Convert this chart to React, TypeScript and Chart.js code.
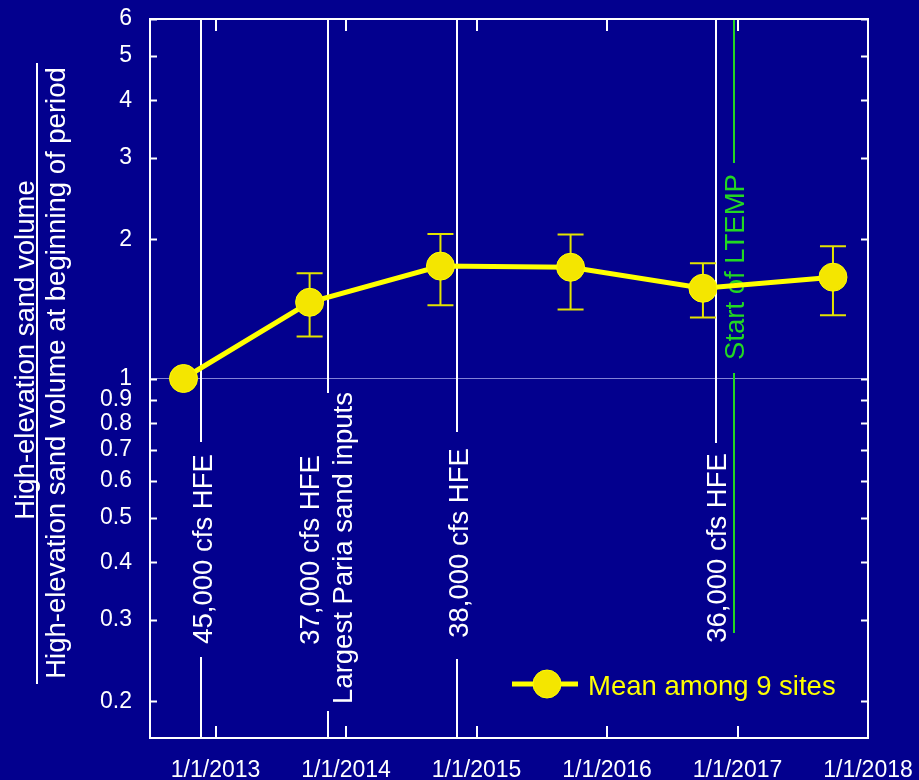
import React, { useEffect, useRef } from 'react';
import { Chart, registerables } from 'chart.js';

Chart.register(...registerables);

// ---------- data ----------
const surveyDates = ['2012-10-03', '2013-09-21', '2014-09-22', '2015-09-21', '2016-09-26', '2017-09-25'];
const meanRatio = [1.0, 1.462, 1.751, 1.741, 1.568, 1.657];
const errUpper: (number | null)[] = [null, 1.69, 2.054, 2.05, 1.777, 1.934];
const errLower: (number | null)[] = [null, 1.233, 1.44, 1.41, 1.356, 1.37];
const yTickValues = [0.2, 0.3, 0.4, 0.5, 0.6, 0.7, 0.8, 0.9, 1, 2, 3, 4, 5, 6];
const xTickYears = [2013, 2014, 2015, 2016, 2017, 2018];
const eventDates = ['2012-11-22', '2013-11-12', '2014-11-06', '2016-11-01'];
const eventLabels = ['45,000 cfs HFE', '37,000 cfs HFE', '38,000 cfs HFE', '36,000 cfs HFE'];
const pariaLabel = 'Largest Paria sand inputs';
const ltempDate = '2016-12-21';
const ltempLabel = 'Start of LTEMP';
const seriesLabel = 'Mean among 9 sites';
const yTitleTop = 'High-elevation sand volume';
const yTitleBottom = 'High-elevation sand volume at beginning of period';
const xStartDate = '2012-07-01';

// ---------- styling ----------
const BG = '#03008e';
const WHITE = '#ffffff';
const YELLOW = '#ffff00';
const MARKER = '#f4e600';
const GREEN = '#22d822';
const FONT = "'Liberation Sans', Arial, Helvetica, sans-serif";
const BIG = 27.5;

function toYear(s: string): number {
  const [y, m, d] = s.split('-').map(Number);
  const start = Date.UTC(y, 0, 1);
  const end = Date.UTC(y + 1, 0, 1);
  return y + (Date.UTC(y, m - 1, d) - start) / (end - start);
}

function vText(ctx: CanvasRenderingContext2D, text: string, cx: number, cy: number, size: number, color: string) {
  ctx.save();
  ctx.translate(cx, cy);
  ctx.rotate(-Math.PI / 2);
  ctx.font = `${size}px ${FONT}`;
  ctx.fillStyle = color;
  ctx.textAlign = 'center';
  ctx.textBaseline = 'alphabetic';
  ctx.fillText(text, 0, size * 0.716 / 2);
  ctx.restore();
}

function vLine(ctx: CanvasRenderingContext2D, x: number, y1: number, y2: number, color: string, w = 2) {
  ctx.save();
  ctx.strokeStyle = color;
  ctx.lineWidth = w;
  ctx.beginPath();
  ctx.moveTo(x, y1);
  ctx.lineTo(x, y2);
  ctx.stroke();
  ctx.restore();
}

const decorPlugin = {
  id: 'decor',
  beforeDatasetsDraw(chart: any) {
    const ctx: CanvasRenderingContext2D = chart.ctx;
    const { left, right, top, bottom } = chart.chartArea;
    const xs = chart.scales.x;
    const ys = chart.scales.y;

    // horizontal reference line at 1
    const y1 = ys.getPixelForValue(1);
    ctx.save();
    ctx.strokeStyle = 'rgba(200,200,255,0.65)';
    ctx.lineWidth = 1;
    ctx.beginPath();
    ctx.moveTo(left, y1);
    ctx.lineTo(right, y1);
    ctx.stroke();
    ctx.restore();

    // event lines (gaps given as offsets from the plot top)
    const gaps = [
      { gTop: 423, gBot: 638, text: [{ dx: 1, cy: 530, label: eventLabels[0] }] },
      { gTop: 374, gBot: 692, text: [{ dx: -19, cy: 531, label: eventLabels[1] }, { dx: 14, cy: 529, label: pariaLabel }] },
      { gTop: 413, gBot: 640, text: [{ dx: 1, cy: 524, label: eventLabels[2] }] },
      { gTop: 424, gBot: null, text: [{ dx: 0, cy: 529, label: eventLabels[3] }] },
    ];
    eventDates.forEach((d, i) => {
      const px = Math.round(xs.getPixelForValue(toYear(d)));
      const g = gaps[i];
      vLine(ctx, px, top, top + g.gTop, WHITE);
      if (g.gBot !== null) vLine(ctx, px, top + g.gBot, bottom, WHITE);
      g.text.forEach(t => vText(ctx, t.label, px + t.dx, top + t.cy, BIG, WHITE));
    });

    // LTEMP
    const lx = Math.round(xs.getPixelForValue(toYear(ltempDate)));
    vLine(ctx, lx, top, top + 144, GREEN);
    vLine(ctx, lx, top + 354, top + 614, GREEN);
    vText(ctx, ltempLabel, lx, top + 248, BIG, GREEN);

    // error bars
    ctx.save();
    ctx.strokeStyle = '#e4e400';
    ctx.lineWidth = 2;
    surveyDates.forEach((d, i) => {
      const hi = errUpper[i];
      const lo = errLower[i];
      if (hi == null || lo == null) return;
      const px = xs.getPixelForValue(toYear(d));
      const pt = ys.getPixelForValue(hi);
      const pb = ys.getPixelForValue(lo);
      ctx.beginPath();
      ctx.moveTo(px, pt);
      ctx.lineTo(px, pb);
      ctx.moveTo(px - 13, pt);
      ctx.lineTo(px + 13, pt);
      ctx.moveTo(px - 13, pb);
      ctx.lineTo(px + 13, pb);
      ctx.stroke();
    });
    ctx.restore();
  },
  afterDraw(chart: any) {
    const ctx: CanvasRenderingContext2D = chart.ctx;
    const { left, right, top, bottom } = chart.chartArea;
    const xs = chart.scales.x;
    const ys = chart.scales.y;

    ctx.save();
    ctx.strokeStyle = WHITE;
    ctx.lineWidth = 2;
    ctx.strokeRect(left, top, right - left, bottom - top);
    ctx.beginPath();
    ys.ticks.forEach((t: any) => {
      const py = Math.round(ys.getPixelForValue(t.value)) + 0.5;
      ctx.moveTo(left, py);
      ctx.lineTo(left + 7, py);
      ctx.moveTo(right - 7, py);
      ctx.lineTo(right, py);
    });
    xs.ticks.forEach((t: any) => {
      const px = Math.round(xs.getPixelForValue(t.value));
      ctx.moveTo(px, bottom);
      ctx.lineTo(px, bottom - 12);
      ctx.moveTo(px, top);
      ctx.lineTo(px, top + 12);
    });
    ctx.stroke();
    ctx.restore();

    // y-axis title as a fraction
    vText(ctx, yTitleTop, 24.5, 350, BIG, WHITE);
    vText(ctx, yTitleBottom, 55.5, 373, BIG, WHITE);
    ctx.save();
    ctx.strokeStyle = WHITE;
    ctx.lineWidth = 2;
    ctx.beginPath();
    ctx.moveTo(37, 63);
    ctx.lineTo(37, 684);
    ctx.stroke();
    ctx.restore();

    // legend
    const ly = bottom - 54;
    ctx.save();
    ctx.strokeStyle = YELLOW;
    ctx.lineWidth = 5;
    ctx.beginPath();
    ctx.moveTo(right - 356, ly);
    ctx.lineTo(right - 290, ly);
    ctx.stroke();
    ctx.fillStyle = MARKER;
    ctx.beginPath();
    ctx.arc(right - 321, ly, 14, 0, Math.PI * 2);
    ctx.fill();
    ctx.strokeStyle = YELLOW;
    ctx.lineWidth = 1;
    ctx.stroke();
    ctx.font = `${BIG}px ${FONT}`;
    ctx.fillStyle = YELLOW;
    ctx.textAlign = 'left';
    ctx.textBaseline = 'alphabetic';
    ctx.fillText(seriesLabel, right - 280, ly + 10.5);
    ctx.restore();
  },
};

export default function App() {
  const ref = useRef<HTMLCanvasElement | null>(null);

  useEffect(() => {
    document.body.style.margin = '0';
    document.body.style.background = BG;
    Chart.defaults.font.family = FONT;
    const canvas = ref.current;
    if (!canvas) return;
    const chart = new Chart(canvas, {
      type: 'line',
      data: {
        datasets: [
          {
            label: seriesLabel,
            data: surveyDates.map((d, i) => ({ x: toYear(d), y: meanRatio[i] })),
            borderColor: YELLOW,
            borderWidth: 5,
            pointRadius: 14,
            pointHoverRadius: 14,
            pointBackgroundColor: MARKER,
            pointBorderColor: YELLOW,
            pointBorderWidth: 1,
            tension: 0,
            fill: false,
          },
        ],
      },
      options: {
        animation: false,
        responsive: true,
        maintainAspectRatio: false,
        layout: { padding: { top: 19, right: 51, left: 0, bottom: 0 } },
        plugins: { legend: { display: false }, tooltip: { enabled: false } },
        scales: {
          x: {
            type: 'linear',
            min: toYear(xStartDate),
            max: 2018,
            afterBuildTicks: (s: any) => {
              s.ticks = xTickYears.map(v => ({ value: v }));
            },
            afterFit: (s: any) => {
              s.height = 42;
              s.paddingLeft = 0;
              s.paddingRight = 0;
            },
            ticks: {
              color: WHITE,
              font: { size: 23 },
              padding: 19,
              maxRotation: 0,
              autoSkip: false,
              callback: (v: any) => `1/1/${v}`,
            },
            grid: { display: false, drawTicks: false },
            border: { display: false },
          },
          y: {
            type: 'logarithmic',
            min: 1 / 6,
            max: 6,
            afterBuildTicks: (s: any) => {
              s.ticks = yTickValues.map(v => ({ value: v }));
            },
            afterFit: (s: any) => {
              s.width = 150;
              s.paddingTop = 0;
              s.paddingBottom = 0;
            },
            ticks: {
              color: WHITE,
              font: { size: 23 },
              padding: 18,
              autoSkip: false,
              callback: (v: any) => String(v),
            },
            grid: { display: false, drawTicks: false },
            border: { display: false },
          },
        },
      },
      plugins: [decorPlugin],
    });
    return () => chart.destroy();
  }, []);

  return (
    <div style={{ width: 919, height: 780, background: BG, position: 'relative' }}>
      <canvas ref={ref} />
    </div>
  );
}
